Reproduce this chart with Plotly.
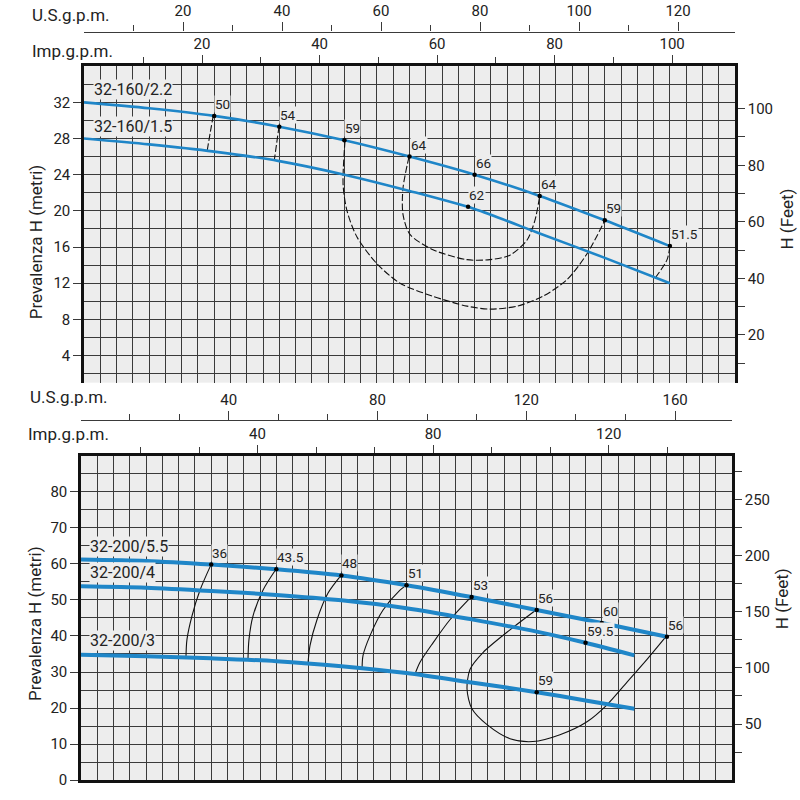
import plotly.graph_objects as go

# ---------------- DATA ----------------
# Top chart: flow Q (m3/h), head H (m)
q_160 = [0, 3, 6, 9, 12, 15, 18, 21, 24, 27]
h_160_22 = [32.0, 31.35, 30.5, 29.3, 27.8, 26.0, 24.0, 21.65, 18.95, 16.1]
h_160_15 = [28.0, 27.35, 26.55, 25.5, 24.0, 22.2, 20.2, 17.5, 14.8, 12.0]

# efficiency iso-lines (top, dashed)
e50_q = [5.96, 5.85, 5.68]
e50_h = [30.55, 29.1, 26.7]
e54_q = [9.0, 8.97, 8.88, 8.77]
e54_h = [29.35, 29.0, 27.5, 25.6]
e59_q = [12.03, 11.94, 12.12, 12.58, 13.5, 14.56, 16.08, 17.65, 18.71, 19.95, 21.15, 22.26, 23.18, 24.0]
e59_h = [27.8, 22.9, 20.0, 17.1, 14.15, 12.0, 10.55, 9.46, 9.13, 9.46, 10.55, 12.4, 15.25, 18.95]
e64_q = [14.98, 14.7, 14.7, 15.02, 16.08, 17.65, 18.71, 19.63, 20.41, 20.78, 21.0]
e64_h = [26.0, 22.5, 19.6, 17.4, 15.7, 14.6, 14.6, 15.1, 16.75, 18.95, 21.65]
e515_q = [27.0, 26.87, 26.36]
e515_h = [16.1, 14.6, 12.7]

# efficiency points (top)
pt_top_q = [6, 9, 12, 15, 18, 21, 24, 27, 17.7]
pt_top_h = [30.5, 29.3, 27.8, 26.0, 24.0, 21.65, 18.95, 16.1, 20.45]
pt_top_lbl = ["50", "54", "59", "64", "66", "64", "59", "51.5", "62"]

# Bottom chart: flow Q (m3/h), head H (m)
q_200_55 = [0, 4, 8, 12, 16, 20, 24, 28, 32, 36]
h_200_55 = [61.2, 60.8, 59.8, 58.5, 56.8, 54.1, 50.8, 47.2, 43.6, 39.8]
q_200_4 = [0, 4, 8, 12, 16, 20, 24, 28, 31, 34]
h_200_4 = [53.8, 53.4, 52.5, 51.4, 49.9, 47.7, 44.6, 41.2, 38.1, 34.6]
q_200_3 = [0, 4, 8, 12, 16, 20, 24, 28, 31, 34]
h_200_3 = [34.8, 34.4, 33.8, 33.0, 31.6, 29.7, 27.1, 24.4, 22.1, 19.8]

# efficiency iso-lines (bottom, solid)
b36_q = [7.99, 7.31, 6.82, 6.51, 6.45]
b36_h = [59.8, 52.7, 45.6, 39.0, 34.0]
b435_q = [11.98, 11.18, 10.57, 10.32, 10.26]
b435_h = [58.5, 52.7, 45.6, 39.0, 33.5]
b48_q = [15.98, 15.18, 14.5, 14.07, 13.95]
b48_h = [56.8, 51.9, 44.5, 37.3, 32.4]
b51_q = [20.0, 19.6, 18.56, 17.76, 17.33, 17.27]
b51_h = [54.1, 52.7, 47.2, 40.1, 34.6, 31.0]
b53_q = [23.96, 22.67, 21.63, 20.83, 20.52]
b53_h = [50.8, 44.5, 38.1, 32.7, 29.4]
b56_q = [27.96, 26.36, 24.7, 23.9, 23.72, 24.02, 24.95, 26.36, 27.77, 29.43, 31.09, 32.32, 33.55, 34.78, 35.94]
b56_h = [47.2, 41.7, 35.4, 30.7, 25.2, 19.8, 15.4, 11.5, 10.7, 12.6, 16.2, 20.9, 27.2, 33.5, 39.8]

pt_bot_q = [8, 12, 16, 20, 24, 28, 32, 36, 31, 28]
pt_bot_h = [59.8, 58.5, 56.8, 54.1, 50.8, 47.2, 43.6, 39.8, 38.1, 24.4]
pt_bot_lbl = ["36", "43.5", "48", "51", "53", "56", "60", "56", "59.5", "59"]

# curve names and label anchor positions (Q, H)
curve_lbl = ["32-160/2.2", "32-160/1.5", "32-200/5.5", "32-200/4", "32-200/3"]
curve_lbl_q = [0.41, 0.41, 0.49, 0.49, 0.49]
curve_lbl_h = [32.3, 28.2, 62.0, 54.6, 35.7]

# tick labels
top_us_major = [20, 40, 60, 80, 100, 120]
top_us_minor = [10, 30, 50, 70, 90, 110]
top_imp_major = [20, 40, 60, 80, 100]
top_imp_minor = [10, 30, 50, 70, 90]
top_ft_vals = [10, 20, 30, 40, 50, 60, 70, 80, 90, 100]
top_ft_text = ["", "20", "", "40", "", "60", "", "80", "", "100"]
bot_us_major = [40, 80, 120, 160]
bot_us_minor = [13.33, 26.67, 53.33, 66.67, 93.33, 106.67, 133.33, 146.67]
bot_imp_major = [40, 80, 120]
bot_imp_minor = [13.33, 26.67, 53.33, 66.67, 93.33, 106.67, 133.33]
bot_ft_vals = [25, 50, 75, 100, 125, 150, 175, 200, 225, 250, 275]
bot_ft_text = ["", "50", "", "100", "", "150", "", "200", "", "250", ""]

# ---------------- STYLE ----------------
BLUE = "#1f86c8"
GRID = "#3a3a3a"
BORDER = "#111111"
BG = "#ededed"
FONT = "Roboto, Arial, sans-serif"
TXT = "#222222"


def px(x):
    return x / 800


def py(y):
    return 1 - y / 800


fig = go.Figure()


def line(q, h, xa, ya, color, width, dash=None):
    fig.add_trace(go.Scatter(
        x=q, y=h, xaxis=xa, yaxis=ya, mode="lines",
        line=dict(color=color, width=width, dash=dash, shape="spline", smoothing=0.8),
        hoverinfo="skip", showlegend=False))


# invisible traces so that the secondary axes get drawn
for xa, ya in [("x2", "y"), ("x3", "y"), ("x", "y2"), ("x5", "y3"), ("x6", "y3"), ("x4", "y4")]:
    fig.add_trace(go.Scatter(x=[None], y=[None], xaxis=xa, yaxis=ya, mode="markers",
                             hoverinfo="skip", showlegend=False))

# top chart efficiency lines (dashed)
for q, h in [(e50_q, e50_h), (e54_q, e54_h), (e59_q, e59_h), (e64_q, e64_h), (e515_q, e515_h)]:
    line(q, h, "x", "y", "#111111", 1.1, dash="7px,2.5px")
line(q_160, h_160_22, "x", "y", BLUE, 2.6)
line(q_160, h_160_15, "x", "y", BLUE, 2.6)
fig.add_trace(go.Scatter(x=pt_top_q, y=pt_top_h, xaxis="x", yaxis="y", mode="markers",
                         marker=dict(color="#000", size=4.5), hoverinfo="skip", showlegend=False))

# bottom chart efficiency lines (solid)
for q, h in [(b36_q, b36_h), (b435_q, b435_h), (b48_q, b48_h), (b51_q, b51_h), (b53_q, b53_h), (b56_q, b56_h)]:
    line(q, h, "x4", "y3", "#111111", 1.1)
line(q_200_55, h_200_55, "x4", "y3", BLUE, 4)
line(q_200_4, h_200_4, "x4", "y3", BLUE, 4)
line(q_200_3, h_200_3, "x4", "y3", BLUE, 4)
fig.add_trace(go.Scatter(x=pt_bot_q, y=pt_bot_h, xaxis="x4", yaxis="y3", mode="markers",
                         marker=dict(color="#000", size=4.5), hoverinfo="skip", showlegend=False))

tickfont = dict(family=FONT, size=15, color=TXT)

top_dom_x = [px(84), px(735)]
top_dom_y = [py(387), py(67)]
bot_dom_x = [px(81), px(732)]
bot_dom_y = [py(789), py(461)]

fig.update_layout(
    width=800, height=800, margin=dict(l=0, r=0, t=0, b=0),
    paper_bgcolor="white", plot_bgcolor=BG, showlegend=False,
    font=dict(family=FONT, color=TXT),
    # ---- top chart ----
    xaxis=dict(domain=top_dom_x, anchor="y", range=[0, 30], tick0=0, dtick=0.75,
               showgrid=True, gridcolor=GRID, gridwidth=1.2, showticklabels=False,
               ticks="", zeroline=False, showline=False),
    yaxis=dict(domain=top_dom_y, anchor="x", range=[1, 35.99], tick0=0, dtick=4,
               ticks="outside", ticklen=8, tickwidth=1.3, tickcolor=GRID, tickfont=tickfont,
               showgrid=True, gridcolor=GRID, gridwidth=1.2,
               minor=dict(tick0=0, dtick=2, showgrid=True, gridcolor=GRID, gridwidth=1.2, ticks=""),
               zeroline=False, showline=True, linewidth=2.5, linecolor=BORDER),
    yaxis2=dict(overlaying="y", side="right", anchor="x", range=[3.15, 115],
                tickmode="array", tickvals=top_ft_vals, ticktext=top_ft_text,
                ticks="outside", ticklen=7, tickwidth=1.3, tickcolor=GRID, tickfont=tickfont,
                showgrid=False, zeroline=False, showline=True, linewidth=2.5, linecolor=BORDER),
    xaxis2=dict(overlaying="x", side="top", anchor="y", range=[-0.09, 110.7],
                tickmode="array", tickvals=top_imp_major,
                ticks="outside", ticklen=8, tickwidth=1.3, tickcolor=GRID, tickfont=tickfont,
                minor=dict(tickmode="array", tickvals=top_imp_minor, ticks="outside", ticklen=6,
                           tickwidth=1.3, tickcolor=GRID),
                showgrid=False, zeroline=False, showline=True, linewidth=2.5, linecolor=BORDER),
    xaxis3=dict(overlaying="x", side="top", anchor="free", position=py(32), range=[0, 131.5],
                tickmode="array", tickvals=top_us_major,
                ticks="outside", ticklen=9, tickwidth=1.3, tickcolor=GRID, tickfont=tickfont,
                minor=dict(tickmode="array", tickvals=top_us_minor, ticks="outside", ticklen=6,
                           tickwidth=1.3, tickcolor=GRID),
                showgrid=False, zeroline=False, showline=True, linewidth=1.3, linecolor=GRID),
    # ---- bottom chart ----
    xaxis4=dict(domain=bot_dom_x, anchor="y3", range=[0, 40], tick0=0, dtick=1,
                showgrid=True, gridcolor=GRID, gridwidth=1.2, showticklabels=False,
                ticks="", zeroline=False, showline=True, linewidth=2.5, linecolor=BORDER),
    yaxis3=dict(domain=bot_dom_y, anchor="x4", range=[0, 89.99], tick0=0, dtick=10,
                ticks="outside", ticklen=8, tickwidth=1.3, tickcolor=GRID, tickfont=tickfont,
                showgrid=True, gridcolor=GRID, gridwidth=1.2,
                minor=dict(tick0=0, dtick=5, showgrid=True, gridcolor=GRID, gridwidth=1.2, ticks=""),
                zeroline=False, showline=True, linewidth=2.5, linecolor=BORDER),
    yaxis4=dict(overlaying="y3", side="right", anchor="x4", range=[0, 289],
                tickmode="array", tickvals=bot_ft_vals, ticktext=bot_ft_text,
                ticks="outside", ticklen=7, tickwidth=1.3, tickcolor=GRID, tickfont=tickfont,
                showgrid=False, zeroline=False, showline=True, linewidth=2.5, linecolor=BORDER),
    xaxis5=dict(overlaying="x4", side="top", anchor="y3", range=[-0.23, 148.1],
                tickmode="array", tickvals=bot_imp_major,
                ticks="outside", ticklen=8, tickwidth=1.3, tickcolor=GRID, tickfont=tickfont,
                minor=dict(tickmode="array", tickvals=bot_imp_minor, ticks="outside", ticklen=6,
                           tickwidth=1.3, tickcolor=GRID),
                showgrid=False, zeroline=False, showline=True, linewidth=2.5, linecolor=BORDER),
    xaxis6=dict(overlaying="x4", side="top", anchor="free", position=py(425), range=[0.27, 175.3],
                tickmode="array", tickvals=bot_us_major,
                ticks="outside", ticklen=9, tickwidth=1.3, tickcolor=GRID, tickfont=tickfont,
                minor=dict(tickmode="array", tickvals=bot_us_minor, ticks="outside", ticklen=6,
                           tickwidth=1.3, tickcolor=GRID),
                showgrid=False, zeroline=False, showline=True, linewidth=1.3, linecolor=GRID),
)

ann = []
# curve labels
refs = [("x", "y"), ("x", "y"), ("x4", "y3"), ("x4", "y3"), ("x4", "y3")]
for txt, xx, yy, (xr, yr) in zip(curve_lbl, curve_lbl_q, curve_lbl_h, refs):
    ann.append(dict(text=txt, x=xx, y=yy, xref=xr, yref=yr, xanchor="left", yanchor="bottom",
                    showarrow=False, bgcolor=BG, borderpad=0,
                    font=dict(family=FONT, size=16, color=TXT)))
# efficiency labels
for q, h, t in zip(pt_top_q, pt_top_h, pt_top_lbl):
    ann.append(dict(text=t, x=q, y=h, xref="x", yref="y", xanchor="left", yanchor="bottom",
                    yshift=3, showarrow=False, bgcolor=BG, borderpad=0,
                    font=dict(family=FONT, size=13.5, color=TXT)))
for q, h, t in zip(pt_bot_q, pt_bot_h, pt_bot_lbl):
    ann.append(dict(text=t, x=q, y=h, xref="x4", yref="y3", xanchor="left", yanchor="bottom",
                    yshift=3, showarrow=False, bgcolor=BG, borderpad=0,
                    font=dict(family=FONT, size=13.5, color=TXT)))
# axis titles
for txt, xx, yy in [("U.S.g.p.m.", 112, 15), ("Imp.g.p.m.", 115, 52),
                    ("U.S.g.p.m.", 110, 402), ("Imp.g.p.m.", 111, 439)]:
    ann.append(dict(text=txt, x=px(xx), y=py(yy), xref="paper", yref="paper", xanchor="right",
                    yanchor="middle", showarrow=False,
                    font=dict(family=FONT, size=17, color=TXT)))
for txt, xx, yy in [("Prevalenza H (metri)", 36, 245), ("Prevalenza H (metri)", 35, 631),
                    ("H (Feet)", 787, 222), ("H (Feet)", 782, 606)]:
    ann.append(dict(text=txt, x=px(xx), y=py(yy), xref="paper", yref="paper", xanchor="center",
                    yanchor="middle", showarrow=False, textangle=-90,
                    font=dict(family=FONT, size=17, color=TXT)))
fig.update_layout(annotations=ann)

fig.write_html("out.html")
